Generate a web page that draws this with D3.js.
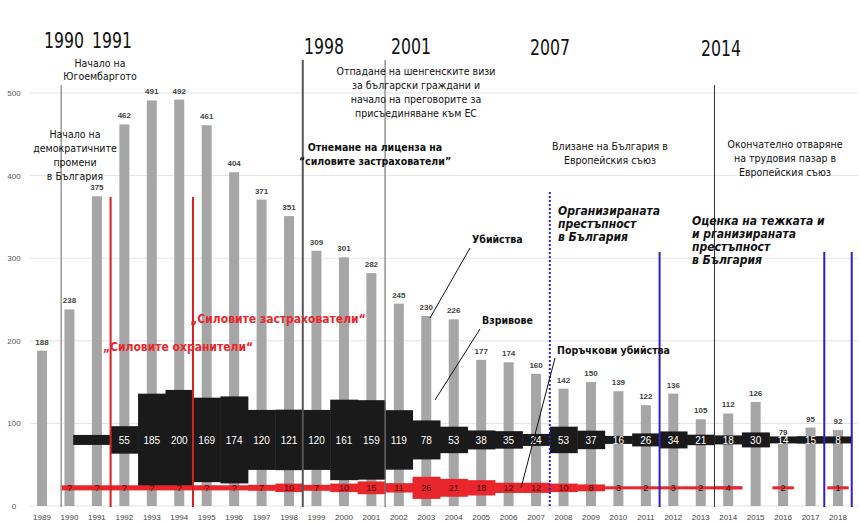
<!DOCTYPE html>
<html><head><meta charset="utf-8">
<script src="https://cdn.jsdelivr.net/npm/d3@7"></script>
<style>body{margin:0;background:#fff}svg{font-family:"Liberation Sans Narrow","DejaVu Sans Condensed","Liberation Sans",Arial,sans-serif}</style>
</head><body><svg width="860" height="524"></svg>
<script>
var years = d3.range(1989, 2019);
var murders = [188,238,375,462,491,492,461,404,371,351,309,301,282,245,230,226,177,174,160,142,150,139,122,136,105,112,126,79,95,92];
// explosions (null = none); 1991 drawn thin without label
var explosions = [null,null,20,55,185,200,169,174,120,121,120,161,159,119,78,53,38,35,24,53,37,16,26,34,21,18,30,14,15,8];
var explLabel = [null,null,"","55","185","200","169","174","120","121","120","161","159","119","78","53","38","35","24","53","37","16","26","34","21","18","30","14","15","8"];
// contract killings, "?" = unknown
var contract = [null,6,6,6,6,6,6,6,7,10,7,10,15,11,26,21,18,12,12,10,8,3,2,3,2,4,null,2,null,1];
var contractLabel = [null,"?","?","?","?","?","?","?","7","10","7","10","15","11","26","21","18","12","12","10","8","3","2","3","2","4","","2","","1"];
var yTicks = [0,100,200,300,400,500];

var svg = d3.select("svg");
var x = d3.scaleLinear().domain([1989, 2018]).range([42, 838]);
var y = d3.scaleLinear().domain([0, 500]).range([506, 93]);
var step = x(1990) - x(1989);

svg.selectAll(".grid").data(yTicks).enter().append("line")
  .attr("x1", 30).attr("x2", 858).attr("y1", d => y(d)).attr("y2", d => y(d))
  .attr("stroke", "#e4e4e4");
svg.selectAll(".yl").data(yTicks).enter().append("text")
  .attr("x", 14).attr("y", d => y(d) + 3).attr("text-anchor", "middle")
  .attr("font-size", 8).attr("fill", "#555").attr("font-family", "Liberation Sans").text(d => d);

svg.selectAll(".bar").data(years).enter().append("rect")
  .attr("x", d => x(d) - 5).attr("width", 10)
  .attr("y", (d, i) => y(murders[i])).attr("height", (d, i) => y(0) - y(murders[i]))
  .attr("fill", "#a6a6a6");
svg.selectAll(".bl").data(years).enter().append("text")
  .attr("x", d => x(d)).attr("y", (d, i) => y(murders[i]) - 6)
  .attr("text-anchor", "middle").attr("font-size", 8).attr("font-weight", "bold")
  .attr("fill", "#444").attr("font-family", "Liberation Sans").text((d, i) => murders[i]);

svg.selectAll(".xl").data(years).enter().append("text")
  .attr("x", d => x(d)).attr("y", 520).attr("text-anchor", "middle")
  .attr("font-size", 8).attr("fill", "#444").attr("font-family", "Liberation Sans").text(d => d);

// black band (explosions)
var bc = y(80);
function bh(v) { return v == null ? 0 : Math.max(7, v * 0.5); }
svg.selectAll(".ex").data(years).enter().append("rect")
  .attr("x", (d, i) => x(d) - step / 2 - (i == 2 ? 10 : 0)).attr("width", (d, i) => step + 0.5 + (i == 2 ? 10 : 0))
  .attr("y", (d, i) => bc - bh(explosions[i]) / 2)
  .attr("height", (d, i) => bh(explosions[i]))
  .attr("fill", "#1a1a1a");
svg.selectAll(".exl").data(years).enter().append("text")
  .attr("x", d => x(d)).attr("y", bc + 4).attr("text-anchor", "middle")
  .attr("font-size", 10).attr("fill", "#fff").attr("font-family", "Liberation Sans")
  .text((d, i) => explLabel[i] || "");

// red band (contract killings)
var rc = y(22);
function rh(v) { return v == null ? 0 : Math.max(3, v * 0.85); }
svg.selectAll(".ck").data(years).enter().append("rect")
  .attr("x", (d, i) => x(d) - step / 2 + (i == 1 ? 5 : i >= 26 ? 3 : 0))
  .attr("width", (d, i) => i >= 26 ? step - 6 : step + 0.5 - (i == 1 ? 5 : 0))
  .attr("y", (d, i) => rc - rh(contract[i]) / 2)
  .attr("height", (d, i) => rh(contract[i]))
  .attr("fill", "#e8262b");
svg.selectAll(".ckl").data(years).enter().append("text")
  .attr("x", d => x(d)).attr("y", rc + 3).attr("text-anchor", "middle")
  .attr("font-size", 9).attr("fill", "#3a0a0a").attr("font-family", "Liberation Sans")
  .text((d, i) => contractLabel[i] || "");

var markers = [
  {yr: 1989.7, top: 85, c: "#999", w: 1.5},
  {yr: 1991.5, top: 197, c: "#d62020", w: 2},
  {yr: 1994.5, top: 197, c: "#d62020", w: 2},
  {yr: 1998.5, top: 60, c: "#555", w: 2},
  {yr: 2001.5, top: 60, c: "#777", w: 1.2},
  {yr: 2007.5, top: 192, c: "#3020c0", w: 2, dash: "2,2"},
  {yr: 2011.5, top: 252, c: "#3020c0", w: 2},
  {yr: 2013.5, top: 85, c: "#333", w: 1},
  {yr: 2017.5, top: 252, c: "#3020c0", w: 2},
  {yr: 2018.5, top: 252, c: "#3020c0", w: 2}
];
svg.selectAll(".mk").data(markers).enter().append("line")
  .attr("x1", d => x(d.yr)).attr("x2", d => x(d.yr)).attr("y1", d => d.top).attr("y2", 507)
  .attr("stroke", d => d.c).attr("stroke-width", d => d.w).attr("stroke-dasharray", d => d.dash || null);

[["1990", 64, 48], ["1991", 112, 48], ["1998", 324, 54], ["2001", 411, 54], ["2007", 550, 55], ["2014", 721, 56]].forEach(function (t) {
  svg.append("text").attr("x", t[1]).attr("y", t[2]).attr("text-anchor", "middle")
    .attr("font-size", 22).attr("fill", "#111").attr("textLength", 40).attr("lengthAdjust", "spacingAndGlyphs").text(t[0]);
});

function para(lines, cx, y0, lh, opt) {
  opt = opt || {};
  var t = svg.append("text").attr("text-anchor", opt.anchor || "middle").attr("font-size", opt.size || 10.5)
    .attr("fill", opt.fill || "#111").attr("font-weight", opt.weight || null).attr("font-style", opt.style || null);
  lines.forEach((l, i) => t.append("tspan").attr("x", cx).attr("y", y0 + i * lh).text(l));
}
para(["Начало на", "Югоембаргото"], 100, 67, 13);
para(["Начало на", "демократичните", "промени", "в България"], 75, 138, 14);
para(["Отпадане на шенгенските визи", "за български граждани и", "начало на преговорите за", "присъединяване към ЕС"], 416, 75, 14);
para(["Отнемане на лицензa на", "“силовите застрахователи”"], 375, 151, 14, {weight: "bold"});
para(["Влизане на България в", "Европейския съюз"], 610, 150, 14);
para(["Окончателно отваряне", "на трудовия пазар в", "Европейския съюз"], 785, 148, 14);
para(["Организираната", "престъпност", "в България"], 558, 215, 13, {anchor: "start", weight: "bold", style: "italic", size: 12});
para(["Оценка на тежката и", "и рганизираната", "престъпност", "в България"], 692, 225, 13, {anchor: "start", weight: "bold", style: "italic", size: 12});
para(["„Силовите охранители“"], 178, 351, 0, {weight: "bold", fill: "#e8262b", size: 12});
para(["„Силовите застрахователи“"], 278, 323, 0, {weight: "bold", fill: "#e8262b", size: 12});
para(["Убийства"], 472, 243, 0, {anchor: "start", weight: "bold"});
para(["Взривове"], 482, 324, 0, {anchor: "start", weight: "bold"});
para(["Поръчкови убийства"], 557, 354, 0, {anchor: "start", weight: "bold"});

[[470, 248, 430, 318], [480, 329, 435, 400], [555, 358, 521, 488]].forEach(function (p) {
  svg.append("line").attr("x1", p[0]).attr("y1", p[1]).attr("x2", p[2]).attr("y2", p[3])
    .attr("stroke", "#111").attr("stroke-width", 1);
});
</script></body></html>
